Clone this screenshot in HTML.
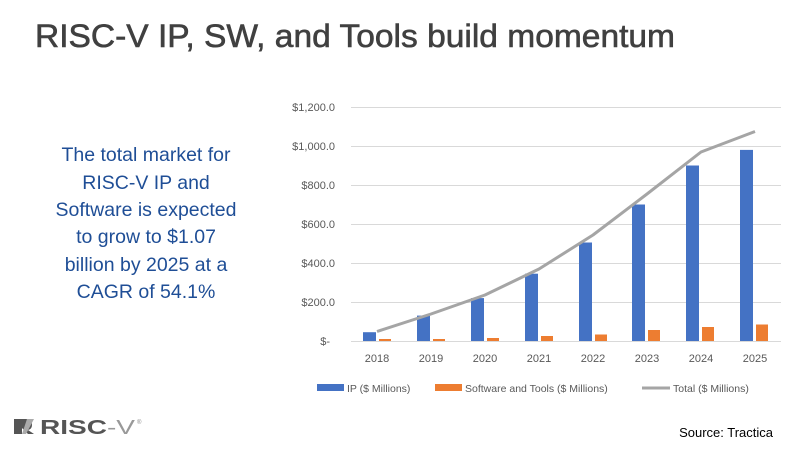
<!DOCTYPE html>
<html><head><meta charset="utf-8"><style>
html,body{margin:0;padding:0;background:#fff;}
body{width:800px;height:446px;overflow:hidden;position:relative;font-family:"Liberation Sans",sans-serif;}
</style></head><body>
<svg width="800" height="446" viewBox="0 0 800 446" xmlns="http://www.w3.org/2000/svg" font-family="Liberation Sans, sans-serif">
<text x="35" y="47" font-size="32" fill="#404040" stroke="#404040" stroke-width="0.6" textLength="640" lengthAdjust="spacingAndGlyphs">RISC-V IP, SW, and Tools build momentum</text>
<g font-size="19.5" fill="#1f4e96" text-anchor="middle">
<text x="146" y="161">The total market for</text>
<text x="146" y="189">RISC-V IP and</text>
<text x="146" y="216">Software is expected</text>
<text x="146" y="243">to grow to $1.07</text>
<text x="146" y="271">billion by 2025 at a</text>
<text x="146" y="298">CAGR of 54.1%</text>
</g>
<g stroke="#d9d9d9" stroke-width="1">
<line x1="351" x2="781" y1="107.5" y2="107.5"/>
<line x1="351" x2="781" y1="146.5" y2="146.5"/>
<line x1="351" x2="781" y1="185.5" y2="185.5"/>
<line x1="351" x2="781" y1="224.5" y2="224.5"/>
<line x1="351" x2="781" y1="263.5" y2="263.5"/>
<line x1="351" x2="781" y1="302.5" y2="302.5"/>
<line x1="351" x2="781" y1="341.5" y2="341.5"/>
</g>
<g font-size="11" fill="#595959" text-anchor="end">
<text x="335" y="111">$1,200.0</text>
<text x="335" y="150">$1,000.0</text>
<text x="335" y="189">$800.0</text>
<text x="335" y="228">$600.0</text>
<text x="335" y="267">$400.0</text>
<text x="335" y="306">$200.0</text>
<text x="330" y="345">$-</text>
</g>
<g fill="#4472c4">
<rect x="363" y="332.2" width="13" height="8.8"/>
<rect x="417" y="315.6" width="13" height="25.4"/>
<rect x="471" y="298.1" width="13" height="42.9"/>
<rect x="525" y="273.7" width="13" height="67.3"/>
<rect x="579" y="242.5" width="13" height="98.5"/>
<rect x="632" y="204.5" width="13" height="136.5"/>
<rect x="686" y="165.5" width="13" height="175.5"/>
<rect x="740" y="149.9" width="13" height="191.1"/>
</g>
<g fill="#ed7d31">
<rect x="379" y="339" width="12" height="2"/>
<rect x="433" y="339" width="12" height="2"/>
<rect x="487" y="338" width="12" height="3"/>
<rect x="541" y="336" width="12" height="5"/>
<rect x="595" y="334.5" width="12" height="6.5"/>
<rect x="648" y="330" width="12" height="11"/>
<rect x="702" y="327" width="12" height="14"/>
<rect x="756" y="324.5" width="12" height="16.5"/>
</g>
<polyline fill="none" stroke="#a5a5a5" stroke-width="3" stroke-linejoin="round" points="377,331.5 431,314 485,295 539,269 593,235 647,194 701,152 755,131.5"/>
<g font-size="11" fill="#595959" text-anchor="middle">
<text x="377" y="362">2018</text><text x="431" y="362">2019</text><text x="485" y="362">2020</text><text x="539" y="362">2021</text>
<text x="593" y="362">2022</text><text x="647" y="362">2023</text><text x="701" y="362">2024</text><text x="755" y="362">2025</text>
</g>
<g font-size="10.5" fill="#595959">
<rect x="317" y="384" width="27" height="7" fill="#4472c4"/>
<text x="347" y="392">IP  ($ Millions)</text>
<rect x="435" y="384" width="27" height="7" fill="#ed7d31"/>
<text x="465" y="392">Software and Tools ($ Millions)</text>
<line x1="642" x2="670" y1="388" y2="388" stroke="#a5a5a5" stroke-width="3"/>
<text x="673" y="392">Total ($ Millions)</text>
</g>
<g>
<path d="M14,419 H26 Q32,419 32,425 Q32,429 28,430 L34,434 H28 L22,428 V434 H14 Z" fill="#555"/>
<path d="M27,419 H34 L26,434 H22 Z" fill="#aaa"/>
<text x="40" y="434" font-size="20" font-weight="bold" fill="#555" textLength="95" lengthAdjust="spacingAndGlyphs">RISC<tspan fill="#999" font-weight="normal">-V</tspan></text>
<text x="137" y="424" font-size="6" fill="#888">®</text>
</g>
<text x="773" y="437" font-size="13" fill="#000" text-anchor="end">Source: Tractica</text>
</svg>
</body></html>
